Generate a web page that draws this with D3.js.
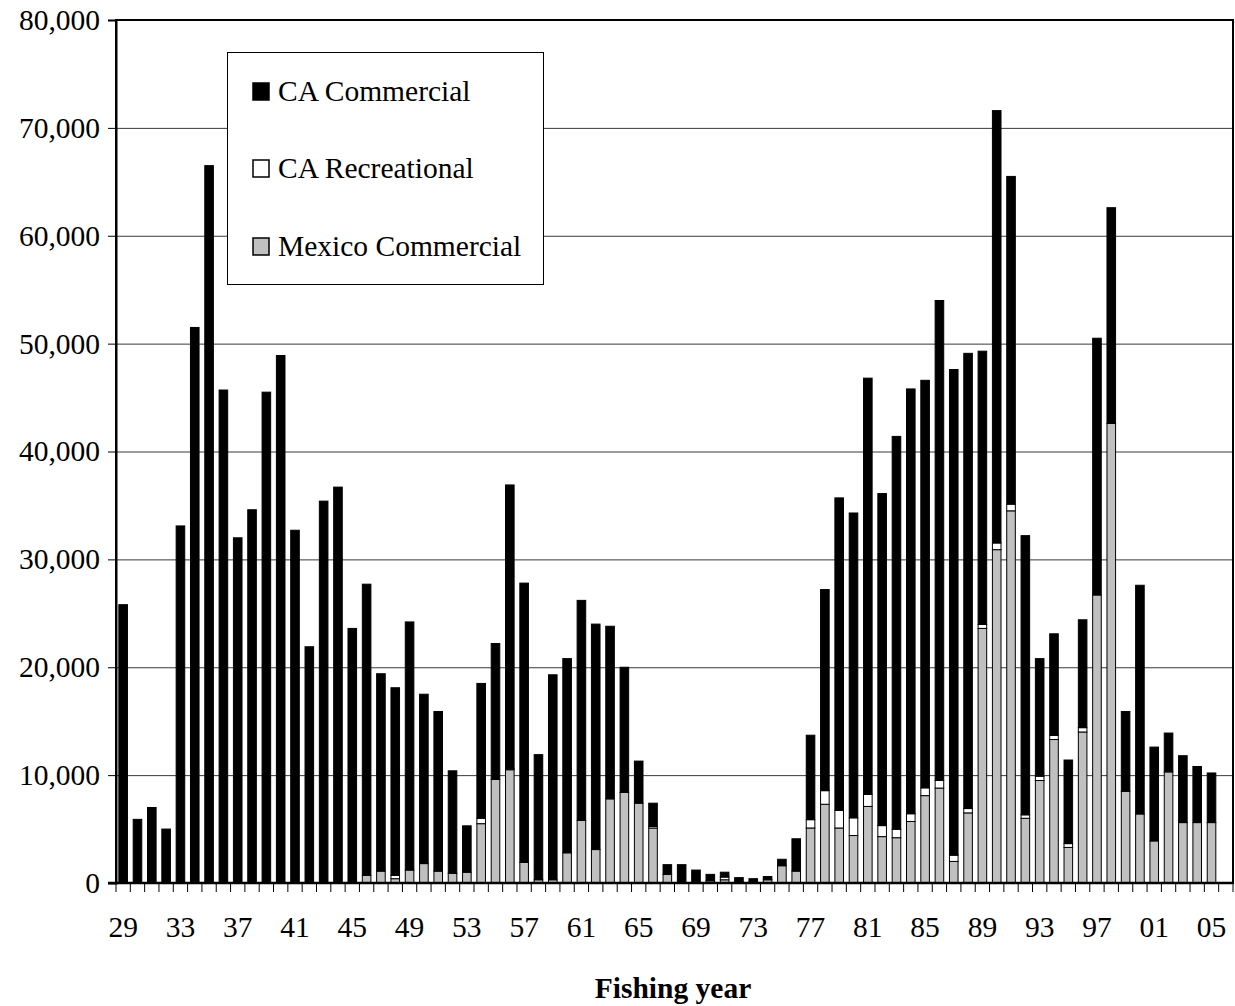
<!DOCTYPE html>
<html>
<head>
<meta charset="utf-8">
<script src="https://cdn.jsdelivr.net/npm/d3@7"></script>
<style>
body { margin: 0; background: #fff; }
text { font-family: "Liberation Serif", "Times New Roman", serif; }
</style>
</head>
<body>
<svg id="chart" width="1235" height="1006"></svg>
<script>
// fishing years 1929 - 2005
var years = d3.range(1929, 2006);

var mexicoCommercial = [
  0, 0, 0, 0, 0, 0, 0, 0, 0, 0,
  0, 0, 0, 0, 0, 0, 0, 700, 1100, 400,
  1200, 1800, 1100, 900, 1000, 5500, 9600, 10500, 1900, 300,
  300, 2800, 5800, 3100, 7800, 8400, 7400, 5100, 800, 0,
  0, 200, 300, 100, 100, 300, 1600, 1100, 5100, 7300,
  5100, 4400, 7100, 4300, 4200, 5700, 8100, 8800, 2000, 6500,
  23600, 30900, 34500, 6000, 9500, 13300, 3300, 14000, 26700, 42600,
  8500, 6400, 3900, 10300, 5600, 5600, 5600
];

var caRecreational = [
  0, 0, 0, 0, 0, 0, 0, 0, 0, 0,
  0, 0, 0, 0, 0, 0, 0, 0, 0, 300,
  0, 0, 0, 0, 0, 500, 0, 100, 0, 0,
  0, 0, 0, 0, 0, 0, 0, 150, 0, 0,
  0, 0, 250, 0, 0, 0, 0, 0, 770, 1260,
  1630, 1640, 1110, 1020, 780, 720, 720, 710, 580, 400,
  370, 620, 620, 320, 400, 390, 350, 400, 0, 0,
  0, 0, 0, 0, 0, 0, 0
];

var caCommercial = [
  25800, 5900, 7000, 5000, 33100, 51500, 66500, 45700, 32000, 34600,
  45500, 48900, 32700, 21900, 35400, 36700, 23600, 27000, 18300, 17400,
  23000, 15700, 14800, 9500, 4300, 12500, 12600, 26300, 25900, 11600,
  19000, 18000, 20400, 20900, 16000, 11600, 3900, 2150, 900, 1700,
  1200, 600, 450, 400, 300, 300, 600, 3000, 7830, 18640,
  28970, 28260, 38590, 30780, 36420, 39380, 37780, 44490, 45020, 42200,
  25330, 40080, 30380, 25880, 10900, 9410, 7750, 10000, 23800, 20000,
  7400, 21200, 8700, 3600, 6200, 5200, 4600
];

var yTicks = [0, 10000, 20000, 30000, 40000, 50000, 60000, 70000, 80000];
var xLabelYears = [1929, 1933, 1937, 1941, 1945, 1949, 1953, 1957, 1961, 1965,
  1969, 1973, 1977, 1981, 1985, 1989, 1993, 1997, 2001, 2005];

var seriesNames = ["CA Commercial", "CA Recreational", "Mexico Commercial"];
var seriesColors = ["#000000", "#ffffff", "#c0c0c0"];

var plotLeft = 116, plotRight = 1233, plotTop = 20, plotBottom = 883;

var rows = years.map(function(yr, i) {
  return { year: yr, mexico: mexicoCommercial[i], rec: caRecreational[i], comm: caCommercial[i] };
});

var svg = d3.select("#chart");

// one empty slot after 2005, as in the original plot
var x = d3.scaleBand()
  .domain(years.concat([2006]))
  .range([plotLeft, plotRight])
  .paddingInner(0.4)
  .paddingOuter(0.2);

var y = d3.scaleLinear()
  .domain([0, 80000])
  .range([plotBottom, plotTop]);

// gridlines
svg.append("g")
  .attr("transform", "translate(" + plotLeft + ",0)")
  .call(d3.axisLeft(y).tickValues(yTicks).tickSize(-(plotRight - plotLeft)).tickFormat(""))
  .call(function(g) { g.select(".domain").remove(); })
  .selectAll("line")
  .attr("stroke", "#3a3a3a")
  .attr("stroke-width", 1);

// stacked bars
var stack = d3.stack().keys(["mexico", "rec", "comm"]);
var layers = stack(rows);
var fills = { mexico: "#c0c0c0", rec: "#ffffff", comm: "#000000" };

svg.append("g").selectAll("g")
  .data(layers)
  .join("g")
  .attr("fill", function(d) { return fills[d.key]; })
  .selectAll("rect")
  .data(function(d) { return d.filter(function(p) { return p[1] > p[0]; }); })
  .join("rect")
  .attr("x", function(d) { return x(d.data.year); })
  .attr("width", x.bandwidth())
  .attr("y", function(d) { return y(d[1]); })
  .attr("height", function(d) { return y(d[0]) - y(d[1]); })
  .attr("stroke", "#000")
  .attr("stroke-width", 1);

// frame
svg.append("rect")
  .attr("x", plotLeft)
  .attr("y", plotTop)
  .attr("width", plotRight - plotLeft)
  .attr("height", plotBottom - plotTop)
  .attr("fill", "none")
  .attr("stroke", "#000")
  .attr("stroke-width", 2);

// y axis
var yAxis = svg.append("g")
  .attr("transform", "translate(" + plotLeft + ",0)")
  .call(d3.axisLeft(y).tickValues(yTicks).tickSize(8).tickPadding(8).tickFormat(d3.format(",")));
yAxis.select(".domain").attr("stroke-width", 2);
yAxis.selectAll("text")
  .style("font-size", "29.5px")
  .style("font-family", "'Liberation Serif', serif")
  .attr("fill", "#000");

// x axis: ticks between every year slot
var step = x.step();
var boundaries = d3.range(0, years.length + 2).map(function(i) { return plotLeft + i * step; });
svg.append("g")
  .selectAll("line")
  .data(boundaries)
  .join("line")
  .attr("x1", function(d) { return d; })
  .attr("x2", function(d) { return d; })
  .attr("y1", plotBottom)
  .attr("y2", plotBottom + 9)
  .attr("stroke", "#000")
  .attr("stroke-width", 1);

svg.append("line")
  .attr("x1", plotLeft - 8).attr("x2", plotRight)
  .attr("y1", plotBottom).attr("y2", plotBottom)
  .attr("stroke", "#000")
  .attr("stroke-width", 2.5);

var xAxis = svg.append("g")
  .attr("transform", "translate(0," + plotBottom + ")")
  .call(d3.axisBottom(x).tickValues(xLabelYears).tickSize(0).tickPadding(33)
    .tickFormat(function(d) { return String(d).slice(2); }));
xAxis.select(".domain").remove();
xAxis.selectAll("text")
  .style("font-size", "29.5px")
  .style("font-family", "'Liberation Serif', serif")
  .attr("fill", "#000");

svg.append("text")
  .attr("x", 673)
  .attr("y", 998)
  .attr("text-anchor", "middle")
  .style("font-size", "29.5px")
  .style("font-weight", "bold")
  .text("Fishing year");

// legend
var legend = svg.append("g").attr("id", "legend");
legend.append("rect")
  .attr("x", 227.5)
  .attr("y", 52.5)
  .attr("width", 316)
  .attr("height", 232)
  .attr("fill", "#fff")
  .attr("stroke", "#000")
  .attr("stroke-width", 1);

var legendRows = [101, 178, 256];
seriesNames.forEach(function(name, i) {
  legend.append("rect")
    .attr("x", 253)
    .attr("y", legendRows[i] - 18)
    .attr("width", 16)
    .attr("height", 17)
    .attr("fill", seriesColors[i])
    .attr("stroke", "#000")
    .attr("stroke-width", 1.5);
  legend.append("text")
    .attr("x", 278)
    .attr("y", legendRows[i])
    .style("font-size", "29.5px")
    .text(name);
});
</script>
</body>
</html>
